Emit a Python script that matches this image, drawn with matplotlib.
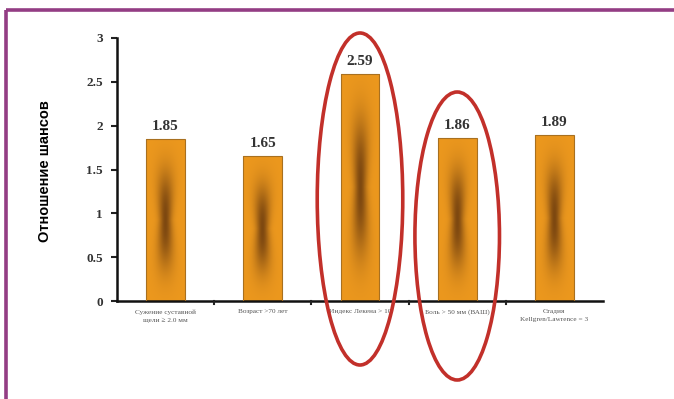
import numpy as np
import matplotlib
matplotlib.use("Agg")
import matplotlib.pyplot as plt
from matplotlib.patches import Ellipse
from matplotlib.colors import to_rgb
from matplotlib.lines import Line2D

categories = [
    "Сужение суставной\nщели ≥ 2.0 мм",
    "Возраст >70 лет",
    "Индекс Лекена > 10",
    "Боль > 50 мм (ВАШ)",
    "Стадия\nKellgren/Lawrence = 3",
]
odds_ratios = [1.85, 1.65, 2.59, 1.86, 1.89]
value_labels = ["1.85", "1.65", "2.59", "1.86", "1.89"]
y_ticks = [0, 0.5, 1, 1.5, 2, 2.5, 3]
y_tick_labels = ["0", "0.5", "1", "1.5", "2", "2.5", "3"]
highlighted = [2, 3]

W, H = 674, 399
fig = plt.figure(figsize=(W / 100, H / 100), dpi=100)
fig.patch.set_facecolor("white")

# purple frame (top and left rules)
purple = "#933d84"
fig.add_artist(Line2D([6 / W, 1.0], [1 - 10 / H, 1 - 10 / H], color=purple, lw=2.6,
                      transform=fig.transFigure, solid_capstyle="butt"))
fig.add_artist(Line2D([6 / W, 6 / W], [0.0, 1 - 10 / H], color=purple, lw=2.6,
                      transform=fig.transFigure, solid_capstyle="butt"))

left, right, bottom, top = 117 / W, 603 / W, 1 - 301 / H, 1 - 38 / H
ax = fig.add_axes([left, bottom, right - left, top - bottom])
ax.set_facecolor("white")

orange = np.array(to_rgb("#ec981e"))
dark = np.array(to_rgb("#6a3a0e"))

bar_w = 0.4
x = np.arange(len(categories))
bars = ax.bar(x, odds_ratios, width=bar_w, facecolor="none",
              edgecolor="#a87020", linewidth=0.8, zorder=3)

# gradient fill: a soft dark streak down the middle of each bar
ny, nx = 240, 60
u = np.linspace(-1, 1, nx)[None, :]
v = np.linspace(-1, 1, ny)[:, None]
sigma_u = 0.32 + 0.3 * np.abs(v)
w = np.exp(-(u / sigma_u) ** 2) * np.exp(-(np.abs(v) / 0.58) ** 2.5)
w = 0.85 * w
img = orange[None, None, :] * (1 - w[..., None]) + dark[None, None, :] * w[..., None]

for xi, val, b in zip(x, odds_ratios, bars):
    im = ax.imshow(img, extent=[xi - bar_w / 2, xi + bar_w / 2, 0, val],
                   aspect="auto", origin="lower", zorder=2, interpolation="bilinear")
    im.set_clip_path(b)

for xi, val, lab in zip(x, odds_ratios, value_labels):
    ax.text(xi, val + 0.07, lab, ha="center", va="bottom",
            family="Liberation Serif", fontweight="bold", fontsize=11, color="#333333")

ax.set_xlim(-0.5, len(categories) - 0.5)
ax.set_ylim(0, 3)

ax.set_yticks(y_ticks)
ax.set_yticklabels(y_tick_labels, family="Liberation Serif", fontweight="bold",
                   fontsize=9.5, color="#333333")
ax.tick_params(axis="y", direction="out", length=4, width=1.5, color="#222222", pad=6)

ax.set_xticks(x)
ax.set_xticklabels(categories, family="Liberation Serif", fontsize=5.2, color="#555555",
                   linespacing=1.6)
ax.tick_params(axis="x", length=0, pad=6)
for b in np.arange(0.5, len(categories) - 0.5, 1.0):
    ax.plot([b, b], [-0.03, 0.0], color="#222222", lw=1.5, clip_on=False, zorder=4)

for side in ["top", "right"]:
    ax.spines[side].set_visible(False)
ax.spines["left"].set_linewidth(1.8)
ax.spines["bottom"].set_linewidth(1.8)
ax.spines["left"].set_color("#111111")
ax.spines["bottom"].set_color("#111111")

fig.text(45 / W, 1 - 171 / H, "Отношение шансов", rotation=90, ha="center", va="center",
         family=["Liberation Sans", "DejaVu Sans"], fontweight="bold",
         fontsize=10.5, color="black")

# red ellipses around the highlighted bars
px_per_unit = (301 - 38) / 3.0
ellipses = {2: (199, 332, 0.88), 3: (236, 288, 0.87)}
for i in highlighted:
    cy, h, wd = ellipses[i]
    e = Ellipse((i, (301 - cy) / px_per_unit), wd, h / px_per_unit, fill=False,
                edgecolor="#c2302a", linewidth=2.6, clip_on=False, zorder=5)
    ax.add_patch(e)

fig.savefig("out.png", dpi=100, facecolor="white")
